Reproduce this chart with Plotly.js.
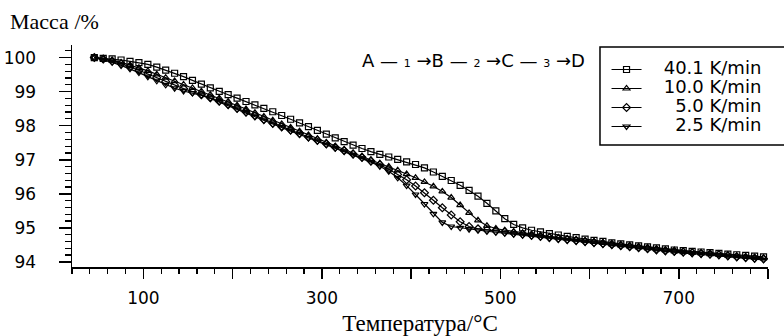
<!DOCTYPE html>
<html>
<head>
<meta charset="utf-8">
<script src="https://cdn.plot.ly/plotly-3.0.1.min.js"></script>
<style>html,body{margin:0;padding:0;background:#fff;}#chart{width:784px;height:336px;}</style>
</head>
<body>
<div id="chart"></div>
<script>
// Temperature, °C
const temps = [45,55,65,75,85,95,105,115,125,135,145,155,165,175,185,195,205,215,225,235,245,255,265,275,285,295,305,315,325,335,345,355,365,375,385,395,405,415,425,435,445,455,465,475,485,495,505,515,525,535,545,555,565,575,585,595,605,615,625,635,645,655,665,675,685,695,705,715,725,735,745,755,765,775,785,795];

// Mass, % for each heating rate
const mass40 = [100.00,99.98,99.96,99.93,99.89,99.85,99.80,99.72,99.63,99.54,99.44,99.33,99.22,99.11,99.01,98.91,98.81,98.71,98.61,98.51,98.41,98.30,98.19,98.08,97.97,97.86,97.75,97.64,97.53,97.43,97.33,97.24,97.16,97.08,97.01,96.94,96.86,96.76,96.64,96.51,96.39,96.25,96.10,95.93,95.72,95.50,95.27,95.10,95.00,94.93,94.88,94.83,94.79,94.75,94.71,94.67,94.63,94.60,94.56,94.53,94.50,94.47,94.44,94.41,94.38,94.35,94.33,94.31,94.29,94.27,94.25,94.23,94.21,94.19,94.17,94.15];
const mass10 = [100.00,99.97,99.92,99.86,99.78,99.70,99.61,99.51,99.41,99.31,99.21,99.11,99.01,98.91,98.81,98.71,98.60,98.49,98.38,98.27,98.16,98.05,97.95,97.84,97.73,97.62,97.51,97.40,97.30,97.20,97.10,97.00,96.90,96.80,96.69,96.58,96.47,96.35,96.22,96.07,95.89,95.67,95.44,95.22,95.06,94.98,94.93,94.89,94.85,94.81,94.78,94.75,94.72,94.69,94.66,94.63,94.60,94.57,94.54,94.51,94.48,94.45,94.42,94.39,94.36,94.34,94.32,94.30,94.28,94.26,94.24,94.21,94.18,94.16,94.14,94.12];
const mass5 = [100.00,99.96,99.90,99.82,99.73,99.63,99.52,99.41,99.30,99.19,99.09,99.00,98.91,98.82,98.72,98.62,98.51,98.40,98.29,98.18,98.07,97.97,97.87,97.77,97.67,97.57,97.47,97.37,97.27,97.17,97.07,96.96,96.85,96.72,96.57,96.41,96.23,96.03,95.81,95.59,95.38,95.18,95.04,94.97,94.94,94.91,94.88,94.85,94.82,94.78,94.75,94.72,94.69,94.66,94.63,94.60,94.57,94.54,94.51,94.48,94.45,94.42,94.39,94.36,94.33,94.31,94.29,94.27,94.25,94.23,94.21,94.18,94.15,94.13,94.11,94.09];
const mass25 = [100.00,99.94,99.86,99.77,99.67,99.56,99.44,99.32,99.20,99.10,99.02,98.96,98.89,98.80,98.70,98.59,98.48,98.37,98.26,98.15,98.04,97.94,97.84,97.74,97.64,97.54,97.44,97.34,97.24,97.14,97.04,96.93,96.81,96.66,96.47,96.24,95.98,95.70,95.41,95.16,95.04,95.00,94.96,94.93,94.90,94.87,94.84,94.81,94.78,94.75,94.72,94.69,94.66,94.63,94.60,94.57,94.54,94.51,94.48,94.45,94.42,94.39,94.36,94.33,94.30,94.28,94.26,94.24,94.22,94.20,94.18,94.15,94.12,94.10,94.08,94.06];

const seriesNames = ['40.1 K/min','10.0 K/min','\u00a0\u00a05.0 K/min','\u00a0\u00a02.5 K/min'];
const seriesSymbols = ['square-open','triangle-up-open','diamond-open','triangle-down-open'];
const seriesValues = [mass40, mass10, mass5, mass25];

const xTickVals = [100,200,300,400,500,600,700,800];
const xTickText = ['100','','300','','500','','700',''];
const yTickVals = [94,95,96,97,98,99,100];

const traces = seriesValues.map((vals, i) => ({
  type: 'scatter', mode: 'lines+markers',
  x: temps, y: vals,
  name: '<span style="font-size:18px">\u00a0\u00a0\u00a0' + seriesNames[i] + '</span>',
  line: {color: '#000', width: 1.2},
  marker: {symbol: seriesSymbols[i], size: 6, color: '#000', line: {color: '#000', width: 1.2}}
}));

const sans = 'DejaVu Sans, Arial, sans-serif';
const serif = 'Liberation Serif, Times New Roman, serif';
const dig = (d) => '<span style="font-size:11px">' + d + '</span>';

const layout = {
  width: 784, height: 336,
  margin: {l: 72, r: 16, t: 45, b: 69},
  paper_bgcolor: '#fff', plot_bgcolor: '#fff',
  showlegend: true,
  legend: {
    x: 0.768, xanchor: 'left', y: 0.955, yanchor: 'top',
    bgcolor: 'rgba(0,0,0,0)', borderwidth: 0,
    font: {family: sans, size: 12, color: '#000'},
    tracegroupgap: 0
  },
  xaxis: {
    range: [20, 800], showgrid: false, zeroline: false,
    showline: true, linecolor: '#000', linewidth: 1.5,
    tickmode: 'array', tickvals: xTickVals, ticktext: xTickText,
    ticks: 'outside', ticklen: 10, tickwidth: 1.5, tickcolor: '#000',
    minor: {tickmode: 'linear', tick0: 20, dtick: 20, ticks: 'outside', ticklen: 5, tickwidth: 1.2, tickcolor: '#000', showgrid: false},
    tickfont: {family: sans, size: 17, color: '#000'},
    ticklabelstandoff: 5,
    title: {text: 'Температура/°C', font: {family: serif, size: 23, color: '#000'}, standoff: 10}
  },
  yaxis: {
    range: [93.85, 100.37], showgrid: false, zeroline: false,
    showline: true, linecolor: '#000', linewidth: 1.5,
    tickmode: 'array', tickvals: yTickVals,
    ticks: 'outside', ticklen: 12, tickwidth: 1.5, tickcolor: '#000',
    minor: {tickmode: 'linear', tick0: 94, dtick: 0.2, ticks: 'outside', ticklen: 6, tickwidth: 1.2, tickcolor: '#000', showgrid: false},
    tickfont: {family: sans, size: 17, color: '#000'},
    ticklabelstandoff: 19
  },
  shapes: [{
    type: 'rect', xref: 'paper', yref: 'paper',
    x0: 0.7586, x1: 1.1, y0: 0.5495, y1: 0.991,
    line: {color: '#000', width: 1.5}, fillcolor: 'rgba(0,0,0,0)'
  }],
  annotations: [
    {xref: 'paper', yref: 'paper', x: -0.092, y: 1.104, xanchor: 'left', yanchor: 'middle',
     text: 'Масса /%', showarrow: false, font: {family: serif, size: 22, color: '#000'}},
    {xref: 'paper', yref: 'paper', x: 0.414, y: 0.932, xanchor: 'left', yanchor: 'middle',
     text: 'A \u2014 ' + dig('1') + ' \u2192B \u2014 ' + dig('2') + ' \u2192C \u2014 ' + dig('3') + ' \u2192D',
     showarrow: false, font: {family: sans, size: 18, color: '#000'}}
  ]
};

Plotly.newPlot('chart', traces, layout, {displayModeBar: false, staticPlot: true});
</script>
</body>
</html>
